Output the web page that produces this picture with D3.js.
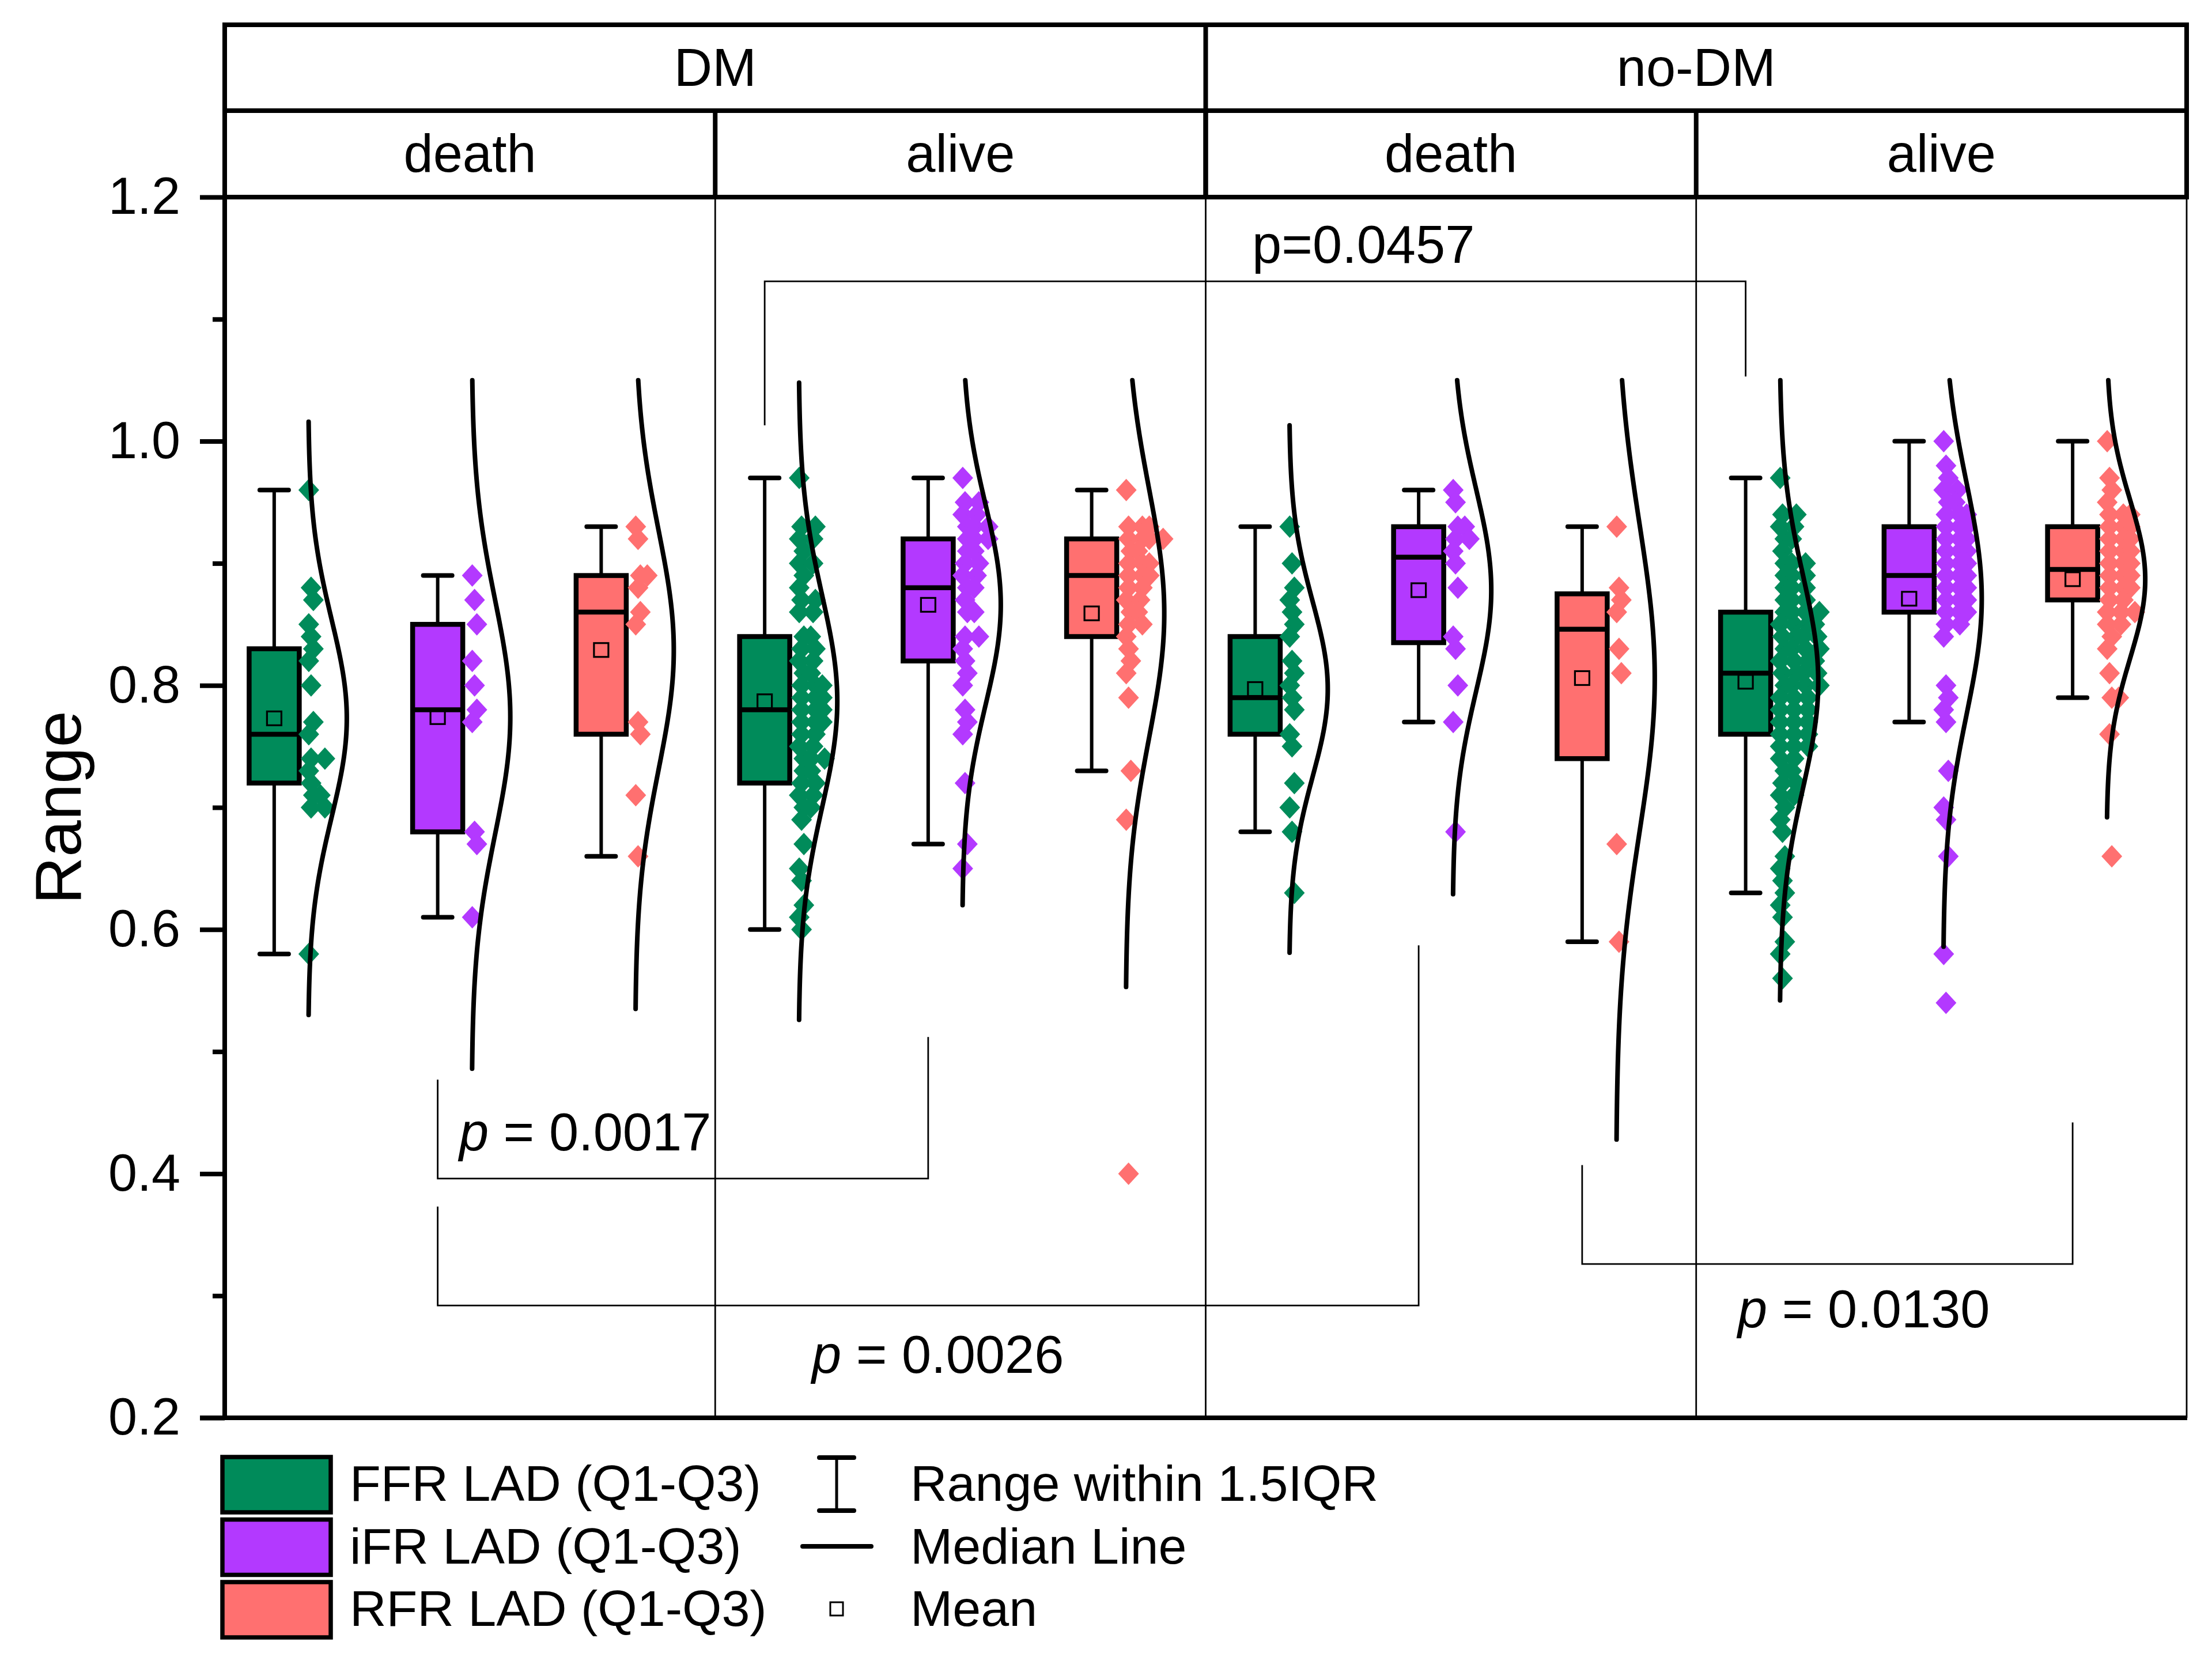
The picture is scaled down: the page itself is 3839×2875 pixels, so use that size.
<!DOCTYPE html>
<html><head><meta charset="utf-8">
<script src="https://cdn.jsdelivr.net/npm/d3@7"></script>
<style>html,body{margin:0;padding:0;background:#fff;}svg{display:block;}</style>
</head><body><svg id="chart"></svg>
<script>
// ---------------- DATA ----------------
const outerGroups = ["DM", "no-DM"];
const outcomes = ["death", "alive"];
const measures = ["FFR LAD", "iFR LAD", "RFR LAD"];
const colors = ["#008B5A", "#B339FF", "#FF7070"];
const yTicks = [0.2, 0.4, 0.6, 0.8, 1.0, 1.2];
const yMinorTicks = [0.3, 0.5, 0.7, 0.9, 1.1];
const legendLabels = ["FFR LAD (Q1-Q3)", "iFR LAD (Q1-Q3)", "RFR LAD (Q1-Q3)"];
const legendKeys = ["Range within 1.5IQR", "Median Line", "Mean"];

// group order: DM-death (FFR,iFR,RFR), DM-alive, noDM-death, noDM-alive
const whiskerLow  = [0.58, 0.61, 0.66, 0.60, 0.67, 0.73, 0.68, 0.77, 0.59, 0.63, 0.77, 0.79];
const q1          = [0.72, 0.68, 0.76, 0.72, 0.82, 0.84, 0.76, 0.835, 0.74, 0.76, 0.86, 0.87];
const median      = [0.76, 0.78, 0.86, 0.78, 0.88, 0.89, 0.79, 0.905, 0.846, 0.81, 0.89, 0.895];
const q3          = [0.83, 0.85, 0.89, 0.84, 0.92, 0.92, 0.84, 0.93, 0.875, 0.86, 0.93, 0.93];
const whiskerHigh = [0.96, 0.89, 0.93, 0.97, 0.97, 0.96, 0.93, 0.96, 0.93, 0.97, 1.00, 1.00];
const means       = [0.773, 0.774, 0.829, 0.787, 0.866, 0.859, 0.797, 0.878, 0.806, 0.803, 0.871, 0.887];
const sds         = [0.081, 0.096, 0.098, 0.087, 0.082, 0.102, 0.072, 0.083, 0.126, 0.087, 0.095, 0.065];
const curveTopLimit = 1.05;

const ffrDMdeath = [0.96,0.88,0.87,0.85,0.84,0.83,0.82,0.80,0.77,0.76,0.74,0.74,0.73,0.72,0.71,0.71,0.70,0.70,0.58];
const ifrDMdeath = [0.89,0.87,0.85,0.82,0.80,0.78,0.77,0.68,0.67,0.61];
const rfrDMdeath = [0.93,0.92,0.89,0.89,0.88,0.86,0.85,0.77,0.76,0.71,0.66];
const ffrDMalive = [0.97,0.93,0.93,0.92,0.92,0.91,0.90,0.90,0.89,0.88,0.87,0.87,0.86,0.86,0.84,0.84,0.83,0.83,0.82,0.82,0.81,0.81,
  0.80,0.80,0.80,0.79,0.79,0.79,0.78,0.78,0.78,0.77,0.77,0.77,0.76,0.76,0.75,0.75,0.74,0.74,0.74,0.73,0.73,0.72,0.72,0.71,0.71,
  0.70,0.70,0.69,0.67,0.65,0.64,0.62,0.61,0.60];
const ifrDMalive = [0.97,0.95,0.95,0.94,0.94,0.93,0.93,0.93,0.92,0.92,0.92,0.91,0.91,0.90,0.90,0.89,0.89,0.88,0.88,0.87,0.86,0.86,
  0.84,0.84,0.83,0.82,0.81,0.80,0.78,0.77,0.76,0.72,0.67,0.65];
const rfrDMalive = [0.96,0.93,0.93,0.93,0.92,0.92,0.92,0.92,0.91,0.91,0.90,0.90,0.90,0.89,0.89,0.89,0.88,0.88,0.87,0.87,0.86,0.86,
  0.85,0.85,0.84,0.83,0.82,0.81,0.79,0.73,0.69,0.40];
const ffrNDdeath = [0.93,0.90,0.88,0.87,0.86,0.85,0.84,0.82,0.81,0.80,0.79,0.78,0.76,0.75,0.72,0.70,0.68,0.63];
const ifrNDdeath = [0.96,0.95,0.93,0.93,0.92,0.92,0.91,0.90,0.88,0.84,0.83,0.80,0.77,0.68];
const rfrNDdeath = [0.93,0.88,0.87,0.86,0.83,0.81,0.67,0.59];
const ffrNDalive = [0.97,0.94,0.94,0.93,0.93,0.92,0.92,0.91,0.90,0.90,0.90,0.89,0.89,0.89,0.88,0.88,0.88,0.87,0.87,0.87,
  0.86,0.86,0.86,0.86,0.85,0.85,0.85,0.85,0.84,0.84,0.84,0.84,0.83,0.83,0.83,0.83,0.82,0.82,0.82,0.82,0.81,0.81,0.81,0.81,
  0.80,0.80,0.80,0.80,0.79,0.79,0.79,0.78,0.78,0.78,0.77,0.77,0.77,0.76,0.76,0.76,0.75,0.75,0.75,0.74,0.74,0.73,0.73,
  0.72,0.72,0.71,0.71,0.70,0.69,0.68,0.66,0.65,0.64,0.63,0.62,0.61,0.59,0.58,0.56];
const ifrNDalive = [1.00,0.98,0.97,0.96,0.96,0.95,0.95,0.94,0.94,0.94,0.93,0.93,0.93,0.92,0.92,0.92,0.91,0.91,0.91,0.90,0.90,0.90,
  0.89,0.89,0.89,0.88,0.88,0.88,0.87,0.87,0.87,0.86,0.86,0.86,0.85,0.85,0.84,0.80,0.79,0.78,0.77,0.73,0.70,0.69,0.66,0.58,0.54];
const rfrNDalive = [1.00,0.97,0.96,0.95,0.94,0.94,0.94,0.93,0.93,0.93,0.92,0.92,0.92,0.91,0.91,0.91,0.90,0.90,0.90,0.89,0.89,0.89,
  0.88,0.88,0.88,0.87,0.87,0.86,0.86,0.86,0.85,0.85,0.84,0.83,0.81,0.79,0.79,0.76,0.66];
const groupPoints = [ffrDMdeath, ifrDMdeath, rfrDMdeath, ffrDMalive, ifrDMalive, rfrDMalive,
                     ffrNDdeath, ifrNDdeath, rfrNDdeath, ffrNDalive, ifrNDalive, rfrNDalive];

// significance brackets: group indices, bracket ends / bar level (values), label position (group units, value)
const bracketFrom  = [3, 1, 1, 8];
const bracketTo    = [9, 4, 7, 11];
const bracketLeftEnd  = [1.013, 0.477, 0.373, 0.407];
const bracketBar      = [1.131, 0.396, 0.292, 0.326];
const bracketRightEnd = [1.053, 0.512, 0.587, 0.442];
const bracketLabels   = ["0.0457", "0.0017", "0.0026", "0.0130"];
const bracketItalic   = [false, true, true, true];
const labelAtGroup    = [6.284, 1.434, 3.591, 9.255];
const labelAtValue    = [1.146, 0.419, 0.237, 0.274];

// ---------------- LAYOUT ----------------
const W = 3839, H = 2875;
const FONT = "'Liberation Sans', Arial, Helvetica, sans-serif";
const plotL = 390, plotR = 3795, plotT = 342, plotB = 2460, headT = 43, headMid = 192;
const THICK = 8, THIN = 2.8;

const svg = d3.select("#chart").attr("width", W).attr("height", H).attr("viewBox", `0 0 ${W} ${H}`);
svg.append("rect").attr("width", W).attr("height", H).attr("fill", "#fff");

const y = d3.scaleLinear().domain([0.2, 1.2]).range([plotB, plotT]);
const panels = [];
outerGroups.forEach(o => outcomes.forEach(c => panels.push(o + "|" + c)));
const xOuter = d3.scaleBand().domain(outerGroups).range([plotL, plotR]);
const xPanel = d3.scaleBand().domain(panels).range([plotL, plotR]);
const xMeasure = d3.scaleBand().domain(measures).range([0, xPanel.bandwidth()]);
const xUnit = d3.scaleLinear().domain([0, panels.length * measures.length]).range([plotL, plotR]);

const groups = [];
panels.forEach(p => measures.forEach((m, mi) => {
  const c = xPanel(p) + xMeasure(m) + xMeasure.bandwidth() / 2;
  groups.push({panel: p, measure: m, mi, center: c, boxC: c - 56});
}));

// ---------------- FRAME ----------------
const frame = svg.append("g").attr("stroke", "#000").attr("fill", "none");
panels.slice(1).forEach(p => {
  frame.append("line").attr("x1", xPanel(p)).attr("x2", xPanel(p)).attr("y1", plotT).attr("y2", plotB).attr("stroke-width", THIN);
});
frame.append("line").attr("x1", plotR).attr("x2", plotR).attr("y1", plotT).attr("y2", plotB).attr("stroke-width", THIN);

// ---------------- BRACKETS ----------------
const br = svg.append("g");
bracketFrom.forEach((f, i) => {
  const x1 = groups[f].boxC, x2 = groups[bracketTo[i]].boxC;
  br.append("path")
    .attr("d", `M${x1},${y(bracketLeftEnd[i])}V${y(bracketBar[i])}H${x2}V${y(bracketRightEnd[i])}`)
    .attr("fill", "none").attr("stroke", "#000").attr("stroke-width", THIN);
  const t = br.append("text").attr("x", xUnit(labelAtGroup[i])).attr("y", y(labelAtValue[i]))
    .attr("font-family", FONT).attr("font-size", 92).attr("fill", "#000");
  if (bracketItalic[i]) {
    t.append("tspan").attr("font-style", "italic").text("p");
    t.append("tspan").text(" = " + bracketLabels[i]);
  } else {
    t.text("p=" + bracketLabels[i]);
  }
});

// ---------------- BOXES ----------------
const boxW = 87, capW = 50;
const gBox = svg.append("g");
groups.forEach((g, i) => {
  const c = g.boxC;
  const gg = gBox.append("g");
  gg.append("line").attr("x1", c).attr("x2", c).attr("y1", y(whiskerHigh[i])).attr("y2", y(q3[i]))
    .attr("stroke", "#000").attr("stroke-width", 6);
  gg.append("line").attr("x1", c).attr("x2", c).attr("y1", y(q1[i])).attr("y2", y(whiskerLow[i]))
    .attr("stroke", "#000").attr("stroke-width", 6);
  [whiskerHigh[i], whiskerLow[i]].forEach(v => {
    gg.append("line").attr("x1", c - capW / 2).attr("x2", c + capW / 2).attr("y1", y(v)).attr("y2", y(v))
      .attr("stroke", "#000").attr("stroke-width", 8).attr("stroke-linecap", "round");
  });
  gg.append("rect").attr("x", c - boxW / 2).attr("width", boxW)
    .attr("y", y(q3[i])).attr("height", y(q1[i]) - y(q3[i]))
    .attr("fill", colors[g.mi]).attr("stroke", "#000").attr("stroke-width", 8.5);
  gg.append("line").attr("x1", c - boxW / 2).attr("x2", c + boxW / 2).attr("y1", y(median[i])).attr("y2", y(median[i]))
    .attr("stroke", "#000").attr("stroke-width", 8.5);
  gg.append("rect").attr("x", c - 12.5).attr("y", y(means[i]) - 12).attr("width", 25).attr("height", 24)
    .attr("fill", "none").attr("stroke", "#000").attr("stroke-width", 3.2);
});

// ---------------- POINTS ----------------
const diamond = "M0,-19.5L18,0L0,19.5L-18,0Z";
const gPts = svg.append("g");
groups.forEach((g, i) => {
  const seen = new Map();
  groupPoints[i].forEach((v, j) => {
    const key = v.toFixed(2);
    const k = seen.get(key) || 0;
    seen.set(key, k + 1);
    const dx = 4 + k * 20 + (j % 3) * 4;
    gPts.append("path").attr("d", diamond)
      .attr("transform", `translate(${g.center + dx},${y(v)})`)
      .attr("fill", colors[g.mi]);
  });
});

// ---------------- DISTRIBUTION CURVES ----------------
const amp = 67;
const gCurve = svg.append("g");
const line = d3.line().x(d => d[0]).y(d => d[1]);
groups.forEach((g, i) => {
  const m = means[i], s = sds[i];
  const lo = m - 3 * s, hi = Math.min(m + 3 * s, curveTopLimit);
  const n = 160, pts = [];
  for (let k = 0; k <= n; k++) {
    const v = lo + (hi - lo) * k / n;
    const z = (v - m) / s;
    pts.push([g.center + 3 + amp * Math.exp(-0.5 * z * z), y(v)]);
  }
  gCurve.append("path").attr("d", line(pts)).attr("fill", "none")
    .attr("stroke", "#000").attr("stroke-width", 8).attr("stroke-linecap", "round");
});

// ---------------- AXES & HEADER ----------------
const gy = svg.append("g").attr("transform", `translate(${plotL},0)`)
  .call(d3.axisLeft(y).tickValues(yTicks).tickSize(43).tickPadding(34).tickFormat(d3.format(".1f")));
gy.select(".domain").remove();
gy.attr("font-family", FONT).attr("font-size", 90);
gy.selectAll(".tick line").attr("stroke", "#000").attr("stroke-width", THICK);
gy.selectAll(".tick text").attr("fill", "#000");
const gym = svg.append("g").attr("transform", `translate(${plotL},0)`)
  .call(d3.axisLeft(y).tickValues(yMinorTicks).tickSize(21).tickFormat(""));
gym.select(".domain").remove();
gym.selectAll(".tick line").attr("stroke", "#000").attr("stroke-width", THICK);

const hf = svg.append("g").attr("stroke", "#000").attr("stroke-width", THICK).attr("fill", "none");
hf.append("line").attr("x1", plotL - 4).attr("x2", plotR + 4).attr("y1", headT).attr("y2", headT);
hf.append("line").attr("x1", plotL).attr("x2", plotR).attr("y1", headMid).attr("y2", headMid);
hf.append("line").attr("x1", plotL).attr("x2", plotR + 4).attr("y1", plotT).attr("y2", plotT);
hf.append("line").attr("x1", plotL - 43).attr("x2", plotR + 1).attr("y1", plotB).attr("y2", plotB);
hf.append("line").attr("x1", plotL).attr("x2", plotL).attr("y1", headT - 4).attr("y2", plotB + 4);
hf.append("line").attr("x1", plotR).attr("x2", plotR).attr("y1", headT - 4).attr("y2", plotT + 4);
outerGroups.slice(1).forEach(o => {
  hf.append("line").attr("x1", xOuter(o)).attr("x2", xOuter(o)).attr("y1", headT).attr("y2", plotT);
});
panels.slice(1).forEach(p => {
  hf.append("line").attr("x1", xPanel(p)).attr("x2", xPanel(p)).attr("y1", headMid).attr("y2", plotT);
});

const ht = svg.append("g").attr("font-family", FONT).attr("font-size", 92).attr("fill", "#000").attr("text-anchor", "middle");
outerGroups.forEach(o => {
  ht.append("text").attr("x", xOuter(o) + xOuter.bandwidth() / 2).attr("y", 149).text(o);
});
panels.forEach(p => {
  ht.append("text").attr("x", xPanel(p) + xPanel.bandwidth() / 2).attr("y", 298).text(p.split("|")[1]);
});

svg.append("text").attr("transform", `translate(140,${(plotT + plotB) / 2}) rotate(-90)`)
  .attr("text-anchor", "middle").attr("font-family", FONT).attr("font-size", 114).attr("fill", "#000").text("Range");

// ---------------- LEGEND ----------------
const lg = svg.append("g").attr("font-family", FONT).attr("font-size", 88).attr("fill", "#000");
const rowY = [2525, 2633.5, 2742];
legendLabels.forEach((lab, i) => {
  lg.append("rect").attr("x", 386).attr("y", rowY[i] + 3).attr("width", 188).attr("height", 96)
    .attr("fill", colors[i]).attr("stroke", "#000").attr("stroke-width", 7.5);
  lg.append("text").attr("x", 607).attr("y", rowY[i] + 79).text(lab);
});
const kx = 1452;
lg.append("line").attr("x1", kx).attr("x2", kx).attr("y1", 2529).attr("y2", 2621).attr("stroke", "#000").attr("stroke-width", 5);
[2529, 2621].forEach(yy => lg.append("line").attr("x1", kx - 30).attr("x2", kx + 30).attr("y1", yy).attr("y2", yy)
  .attr("stroke", "#000").attr("stroke-width", 8).attr("stroke-linecap", "round"));
lg.append("line").attr("x1", 1393).attr("x2", 1512).attr("y1", 2683).attr("y2", 2683)
  .attr("stroke", "#000").attr("stroke-width", 8).attr("stroke-linecap", "round");
lg.append("rect").attr("x", kx - 11).attr("y", 2780).attr("width", 22).attr("height", 23)
  .attr("fill", "#fff").attr("stroke", "#000").attr("stroke-width", 3);
legendKeys.forEach((k, i) => {
  lg.append("text").attr("x", 1580).attr("y", rowY[i] + 79).text(k);
});
</script>
</body></html>
